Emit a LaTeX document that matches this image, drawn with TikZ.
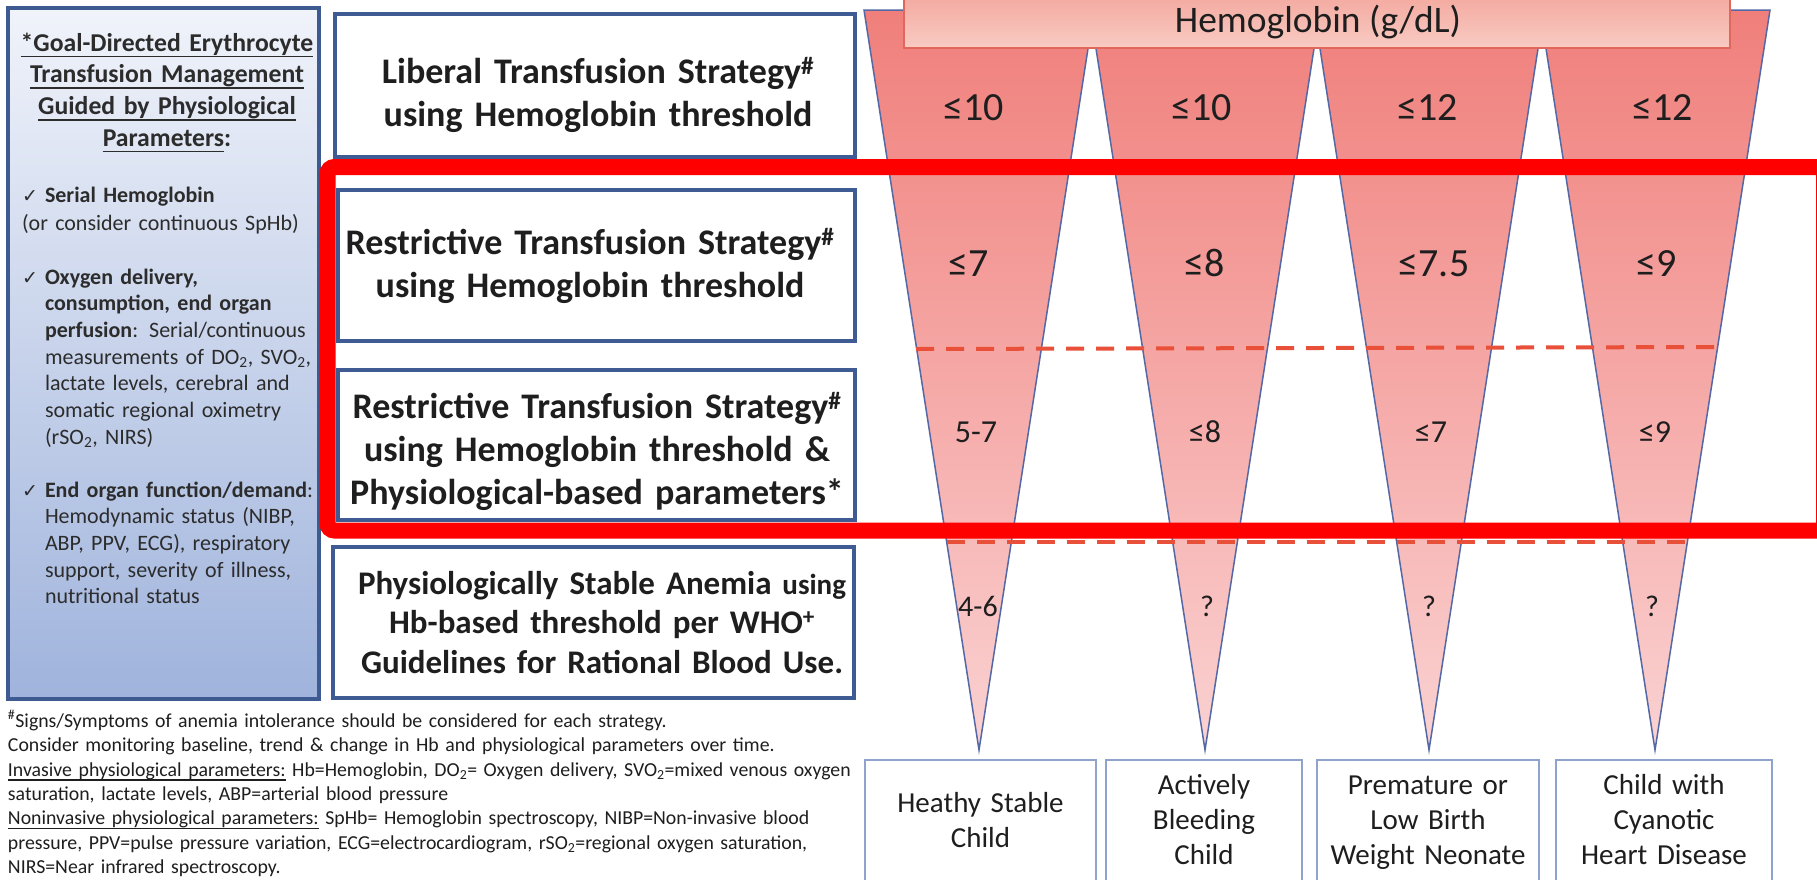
\documentclass[tikz,border=0pt]{standalone}
\usepackage{fontspec}
\setmainfont{Carlito}
\newfontfamily\symfont{DejaVu Sans}
\newcommand{\fs}[2]{\fontsize{#1}{#2}\selectfont}
\newcommand{\ulin}[1]{\leavevmode\setbox0\hbox{#1}\rlap{\rule[-0.24em]{\wd0}{0.07em}}\box0\relax}
\newcommand{\chk}{{\symfont\char"2713}}
\definecolor{ink}{HTML}{1E1E1E}
\definecolor{softink}{HTML}{2C2C2C}
\definecolor{panelblue}{HTML}{3D5A91}
\definecolor{panelTop}{HTML}{F0F3FA}
\definecolor{panelBot}{HTML}{9FB3DC}
\definecolor{stratblue}{HTML}{3E5B93}
\definecolor{catblue}{HTML}{8FA3CC}
\definecolor{triTop}{HTML}{F07F7B}
\definecolor{triBot}{HTML}{FAD2D2}
\definecolor{triline}{HTML}{5468A6}
\definecolor{hdrTop}{HTML}{F3A69C}
\definecolor{hdrBot}{HTML}{F8CBC3}
\definecolor{hdrline}{HTML}{E0675C}
\definecolor{dashred}{HTML}{E8503A}
\definecolor{framered}{HTML}{FF0000}
\begin{document}
\begin{tikzpicture}[x=1pt,y=-1pt,
  txt/.style={inner sep=0pt, outer sep=0pt, text=ink},
  panel/.style={draw=panelblue, line width=4pt, top color=panelTop, bottom color=panelBot, inner sep=0pt},
  stratbox/.style={draw=stratblue, line width=4pt, fill=white, inner sep=0pt},
  catbox/.style={draw=catblue, line width=2pt, fill=white, inner sep=0pt},
  hdrbox/.style={draw=hdrline, line width=2pt, top color=hdrTop, bottom color=hdrBot, inner sep=0pt},
  funnel/.style={draw=triline, line width=1.5pt},
  divider/.style={draw=dashred, line width=4pt, dash pattern=on 18pt off 12pt},
  redframe/.style={draw=framered, line width=16pt, rounded corners=7pt},
  strat/.style={txt, text width=520pt, align=center, anchor=base, font=\bfseries\fs{36}{43}},
  val/.style={txt, anchor=base},
  cat/.style={txt, text width=230pt, align=center, anchor=base, font=\fs{29}{35}},
  side/.style={txt, text=softink, text width=290pt, align=left, anchor=base west, font=\fs{22}{26.7}},
]
\useasboundingbox (0,0) rectangle (1817,879);
\clip (0,0) rectangle (1817,879);
\fill[white] (0,0) rectangle (1817,879);

% left panel: physiological parameters
\node[panel, minimum width=311pt, minimum height=691pt] (panel) at (163.5,353.5) {};
\node[txt, text=softink, text width=300pt, align=center, anchor=base, font=\bfseries\fs{25.7}{31.7}] (ptitle) at (167,51.2)
  {\ulin{*Goal-Directed Erythrocyte}\\ \ulin{Transfusion Management}\\ \ulin{Guided by Physiological}\\ \ulin{Parameters}:};
\node[val, anchor=base west, text=softink, font=\fs{19}{20}] (c1) at (22,202) {\chk};
\node[side] (b1) at (45,202) {\textbf{Serial Hemoglobin}};
\node[side] (b1b) at (22,230) {(or consider continuous SpHb)};
\node[val, anchor=base west, text=softink, font=\fs{19}{20}] (c2) at (22,284) {\chk};
\node[side] (b2) at (45,284) {\textbf{Oxygen delivery,}\\ \textbf{consumption, end organ}\\ \textbf{perfusion}: Serial/continuous\\ measurements of DO\textsubscript{2}, SVO\textsubscript{2},\\ lactate levels, cerebral and\\ somatic regional oximetry\\ (rSO\textsubscript{2}, NIRS)};
\node[val, anchor=base west, text=softink, font=\fs{19}{20}] (c3) at (22,497) {\chk};
\node[side] (b3) at (45,497) {\textbf{End organ function/demand}:\\ Hemodynamic status (NIBP,\\ ABP, PPV, ECG), respiratory\\ support, severity of illness,\\ nutritional status};

% strategy boxes
\node[stratbox, minimum width=520pt, minimum height=143pt] (s1) at (595,85.5) {};
\node[stratbox, minimum width=517pt, minimum height=151pt] (s2) at (596.5,265.5) {};
\node[stratbox, minimum width=517pt, minimum height=150pt] (s3) at (596.5,445) {};
\node[stratbox, minimum width=521pt, minimum height=151pt] (s4) at (593.5,622.5) {};
\node[strat] (t1) at (598,83.5) {Liberal Transfusion Strategy\textsuperscript{\#}\\using Hemoglobin threshold};
\node[strat] (t2) at (590,254.5) {Restrictive Transfusion Strategy\textsuperscript{\#}\\using Hemoglobin threshold};
\node[strat] (t3) at (597,418.5) {Restrictive Transfusion Strategy\textsuperscript{\#}\\using Hemoglobin threshold \&\\Physiological-based parameters*};
\node[strat, font=\bfseries\fs{33}{39.5}] (t4) at (602,594) {Physiologically Stable Anemia {\fs{29}{39.5}using}\\Hb-based threshold per WHO\textsuperscript{+}\\Guidelines for Rational Blood Use.};

% funnels
\foreach \cx in {979,1205,1429,1655} {
  \shade[top color=triTop, bottom color=triBot] (\cx-115,10) -- (\cx+115,10) -- (\cx,750) -- cycle;
  \draw[funnel, line join=miter] (\cx-115,10) -- (\cx+115,10) -- (\cx,750) -- cycle;
}

% header
\node[hdrbox, minimum width=826pt, minimum height=58pt] (hdr) at (1317,19) {};
\node[val, font=\fs{37.5}{40}] (hdrt) at (1318,32) {Hemoglobin (g/dL)};

% thresholds
\node[val, font=\fs{40}{44}] (v11) at (974,120) {≤10};
\node[val, font=\fs{40}{44}] (v12) at (1202,120) {≤10};
\node[val, font=\fs{40}{44}] (v13) at (1428,120) {≤12};
\node[val, font=\fs{40}{44}] (v14) at (1663,120) {≤12};
\node[val, font=\fs{40}{44}] (v21) at (969,276) {≤7};
\node[val, font=\fs{40}{44}] (v22) at (1205,276) {≤8};
\node[val, font=\fs{40}{44}] (v23) at (1434,276) {≤7.5};
\node[val, font=\fs{40}{44}] (v24) at (1657,276) {≤9};
\node[val, font=\fs{32}{36}] (v31) at (976,442) {5-7};
\node[val, font=\fs{32}{36}] (v32) at (1205,442) {≤8};
\node[val, font=\fs{32}{36}] (v33) at (1431,442) {≤7};
\node[val, font=\fs{32}{36}] (v34) at (1655,442) {≤9};
\node[val, font=\fs{30}{34}] (v41) at (978,616.5) {4-6};
\node[val, font=\fs{30}{34}] (v42) at (1207,616.5) {?};
\node[val, font=\fs{30}{34}] (v43) at (1429,616.5) {?};
\node[val, font=\fs{30}{34}] (v44) at (1652,616.5) {?};

% dividers between the strategy levels
\coordinate (d1a) at (916,349);
\coordinate (d1b) at (1717,347);
\coordinate (d2a) at (947,542);
\coordinate (d2b) at (1687,542);
\draw[divider] (d1a) -- (d1b);
\draw[divider] (d2a) -- (d2b);

% patient groups
\node[catbox, minimum width=231pt, minimum height=140pt] (g1) at (980.5,830) {};
\node[catbox, minimum width=196pt, minimum height=140pt] (g2) at (1204,830) {};
\node[catbox, minimum width=222pt, minimum height=140pt] (g3) at (1428,830) {};
\node[catbox, minimum width=216pt, minimum height=140pt] (g4) at (1664,830) {};
\node[cat] (gt1) at (980.5,812) {Heathy Stable\\Child};
\node[cat] (gt2) at (1204,794) {Actively\\Bleeding\\Child};
\node[cat] (gt3) at (1428,794) {Premature or\\Low Birth\\Weight Neonate};
\node[cat] (gt4) at (1664,794) {Child with\\Cyanotic\\Heart Disease};

% footnotes
\node[txt, text width=900pt, align=left, anchor=base west, font=\fs{19.8}{24.3}] (notes) at (8,727.5)
  {\textsuperscript{\#}Signs/Symptoms of anemia intolerance should be considered for each strategy.\\
   Consider monitoring baseline, trend \& change in Hb and physiological parameters over time.\\
   \ulin{Invasive physiological parameters:} Hb=Hemoglobin, DO\textsubscript{2}= Oxygen delivery, SVO\textsubscript{2}=mixed venous oxygen\\
   saturation, lactate levels, ABP=arterial blood pressure\\
   \ulin{Noninvasive physiological parameters:} SpHb= Hemoglobin spectroscopy, NIBP=Non-invasive blood\\
   pressure, PPV=pulse pressure variation, ECG=electrocardiogram, rSO\textsubscript{2}=regional oxygen saturation,\\
   NIRS=Near infrared spectroscopy.};

% highlight frame around the restrictive strategies
\draw[redframe] (327.5,167) rectangle (1824,530.5);
\end{tikzpicture}
\end{document}
